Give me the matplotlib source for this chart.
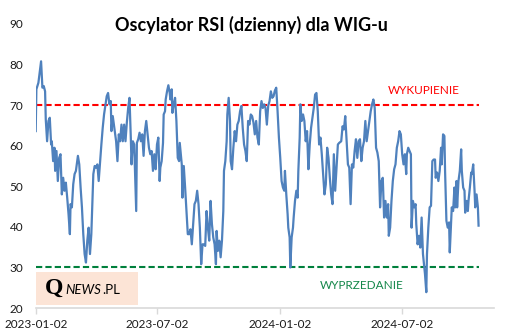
import pandas as pd
import matplotlib.pyplot as plt
import matplotlib.dates as mdates
from matplotlib.patches import Rectangle

plt.rcParams['font.family'] = ['Lato', 'DejaVu Sans']

# Daily RSI for WIG (days counted from 2023-01-02)
start = pd.Timestamp("2023-01-02")
day = [
    0, 1, 4, 8, 10, 12, 14, 15, 17, 19, 21, 23, 24, 26, 28, 29, 31, 33, 35, 37,
    39, 41, 43, 45, 47, 49, 51, 52, 54, 56, 58, 60, 63, 65, 67, 69, 71, 73, 75, 77,
    79, 81, 83, 85, 86, 88, 90, 92, 94, 96, 98, 100, 102,
    106, 108, 110, 112, 113, 115, 117, 120, 122, 124, 126, 128, 130, 132, 134, 136, 138, 140,
    142, 143, 145, 147, 150, 151, 153, 155, 157, 159, 161, 163, 165, 167, 169, 171, 173, 175,
    177, 179, 181, 183, 185, 186, 188, 190, 191, 193, 194, 196, 198, 200, 201, 203, 204, 206,
    208, 210, 212, 214,
    215, 218, 219, 221, 223, 225, 227, 229, 231, 233, 235, 237, 239, 241, 243, 245, 247, 249,
    251, 253, 255, 257, 259, 261, 263, 265, 267, 269, 270, 272, 274, 276, 278, 280, 281, 283,
    285, 286, 288, 290, 291, 293, 295, 297, 299, 301, 303, 305, 307, 309, 311, 313, 315, 317,
    319, 321, 323, 325,
    327, 329, 331, 333, 335, 337, 339, 341, 343, 345, 347, 349, 351, 353, 355, 357, 359, 361,
    363, 365, 367, 369, 371, 372, 374, 376, 377, 379, 380, 382, 384, 385, 387, 389, 391, 392,
    394, 395, 397, 399, 401, 403, 405, 407, 409, 411, 413, 415, 417, 419, 421, 423, 425, 427,
    429, 431, 433, 435, 437,
    439, 441, 443, 445, 447, 449, 451, 453, 456, 458, 460, 462, 464, 466, 468, 470, 472, 474,
    476, 478, 480, 482, 484, 486, 488, 490, 492, 494, 496, 498, 500, 502, 504, 506, 508, 510,
    512, 514, 516, 518, 520, 522, 524, 526, 527, 529, 531, 533, 535, 537, 539, 541, 543, 545,
    547, 549,
    551, 553, 554, 556, 558, 560, 561, 563, 565, 567, 568, 570, 572, 574, 576, 578, 580, 581,
    583, 584, 586, 588, 590, 592, 594, 596, 597, 599, 601, 603, 605, 606, 608, 610, 611, 613,
    615, 617, 618, 620, 621, 623, 625, 626, 628, 629, 631, 633, 635, 636, 638, 640, 641, 643,
    645, 646, 648, 650, 651, 653, 655, 656, 658, 660, 661,
]
rsi = [
    63.6, 73.9, 75.5, 80.8, 74.3, 74.7, 73.4, 66.5, 61.1, 66.1, 66.9, 60.3, 61.1, 56.2, 59.5, 53.8, 58.7, 51.3, 57.0, 57.9,
    48.0, 52.1, 48.9, 50.9, 47.2, 43.1, 38.2, 45.6, 44.8, 50.5, 53.0, 53.8, 57.5, 55.4, 49.7, 44.8, 38.2, 33.3, 31.2, 36.6,
    39.8, 33.3, 38.2, 48.0, 53.0, 55.0, 54.6, 55.4, 51.3, 55.8, 60.3, 64.4, 67.7,
    72.2, 73.0, 70.2, 71.0, 63.6, 67.3, 64.8, 61.1, 56.2, 62.8, 61.1, 65.2, 61.1, 65.2, 61.1, 65.7, 69.3, 71.8,
    61.6, 55.4, 61.1, 60.3, 43.9, 60.7, 61.6, 63.2, 61.1, 62.8, 57.5, 63.6, 66.1, 62.8, 59.5, 57.9, 58.7, 53.8,
    57.9, 54.2, 60.3, 62.0, 51.3, 54.6, 56.2, 60.7, 67.7, 68.5, 71.4, 73.4, 74.9, 73.0, 71.4, 73.9, 68.1, 70.2,
    71.8, 66.1, 57.0, 56.2,
    60.7, 55.4, 47.2, 55.0, 49.7, 43.9, 38.2, 38.2, 39.4, 35.7, 40.7, 45.6, 46.4, 48.9, 45.6, 39.8, 30.8, 35.7,
    35.7, 35.3, 43.9, 39.8, 36.6, 46.4, 40.7, 37.4, 35.7, 30.8, 39.0, 34.1, 36.6, 32.5, 36.6, 43.9, 53.8, 56.2,
    61.1, 67.7, 71.8, 66.1, 56.2, 54.2, 59.5, 63.6, 61.1, 65.2, 66.1, 68.5, 69.8, 64.4, 60.3, 58.7, 56.2, 66.1,
    65.2, 67.7, 67.3, 65.7,
    62.8, 66.1, 62.0, 60.3, 68.5, 71.0, 69.3, 70.2, 69.3, 65.2, 69.8, 71.0, 73.4, 71.8, 72.2, 73.6, 74.3, 68.5,
    62.0, 57.0, 51.3, 49.7, 48.9, 53.8, 48.0, 43.1, 39.8, 37.4, 30.0, 37.4, 39.8, 42.3, 46.4, 48.9, 47.2, 53.8,
    62.0, 70.2, 66.1, 67.7, 66.1, 61.1, 63.6, 54.2, 60.3, 64.4, 66.9, 69.3, 72.6, 73.0, 68.5, 60.3, 62.0, 57.9,
    53.0, 48.0, 50.5, 59.5, 57.0,
    52.1, 48.0, 45.6, 57.9, 48.9, 54.6, 60.3, 60.7, 61.1, 64.8, 64.0, 67.3, 61.1, 55.4, 54.6, 45.6, 55.4, 54.6,
    58.7, 61.6, 57.0, 61.1, 61.6, 56.2, 59.5, 61.1, 66.1, 61.1, 63.6, 66.1, 68.5, 70.2, 71.4, 69.3, 59.5, 58.3,
    56.2, 44.8, 51.3, 52.1, 42.3, 46.4, 42.3, 45.6, 37.8, 39.8, 46.4, 51.3, 54.2, 55.4, 59.5, 61.1, 63.6, 62.8,
    57.9, 55.4,
    57.9, 53.0, 57.9, 59.5, 58.7, 57.9, 39.8, 46.4, 44.8, 45.6, 40.7, 35.7, 37.8, 34.9, 42.3, 33.3, 30.0, 28.4,
    23.9, 33.3, 39.8, 44.8, 45.2, 56.2, 56.6, 56.6, 52.1, 53.4, 51.3, 53.8, 59.5, 55.4, 62.8, 62.4, 53.8, 41.5,
    39.8, 41.1, 33.7, 41.5, 44.8, 43.9, 49.7, 44.8, 51.3, 44.8, 51.3, 53.8, 59.1, 53.8, 49.7, 48.9, 43.5, 46.4,
    43.9, 46.4, 49.7, 53.4, 53.0, 55.4, 48.9, 44.8, 48.0, 44.8, 40.3,
]
overbought = 70
oversold = 30
tick_dates = ["2023-01-02", "2023-07-02", "2024-01-02", "2024-07-02"]

dates = start + pd.to_timedelta(day, unit="D")

fig = plt.figure(figsize=(5.08, 3.36), dpi=100)
ax = fig.add_axes([0.0703, 0.0833, 0.9021, 0.8453])

ax.plot(dates, rsi, color="#4F81BD", lw=1.6, zorder=3)
ax.plot([dates[0], dates[-1]], [overbought] * 2, color="#FF0000", lw=1.5,
        ls=(0, (3, 1.5)), zorder=2)
ax.plot([dates[0], dates[-1]], [oversold] * 2, color="#00803C", lw=1.5,
        ls=(0, (3, 1.5)), zorder=2)

ax.text(start + pd.Timedelta(days=579), 73.6, "WYKUPIENIE", color="#FF0000",
        fontsize=8.5, ha="center", va="center")
ax.text(start + pd.Timedelta(days=487), 25.6, "WYPRZEDANIE", color="#14874A",
        fontsize=8.5, ha="center", va="center")

ax.set_ylim(20, 90)
ax.set_yticks(range(20, 91, 10))
ax.set_xlim(start, start + pd.Timedelta(days=684))
ax.set_xticks(pd.to_datetime(tick_dates))
ax.xaxis.set_major_formatter(mdates.DateFormatter("%Y-%m-%d"))

for side in ["top", "right", "left"]:
    ax.spines[side].set_visible(False)
ax.spines["bottom"].set_color("#D9D9D9")
ax.spines["bottom"].set_linewidth(1.2)
ax.tick_params(axis="y", length=0, pad=9, labelsize=8.5, labelcolor="#1a1a1a")
ax.tick_params(axis="x", length=4, width=1.0, color="#D9D9D9", pad=4,
               labelsize=8.5, labelcolor="#1a1a1a")

fig.text(0.495, 0.926, "Oscylator RSI (dzienny) dla WIG-u", fontsize=13,
         fontweight="bold", ha="center", va="center")

# logo box in the lower-left corner
ax.add_patch(Rectangle((0, 0.0095), 0.223, 0.1165, transform=ax.transAxes,
                       facecolor="#FCE4D6", edgecolor="none", zorder=1))
fig.text(45 / 508, 0.124, "Q", family="Liberation Serif", fontsize=17,
         fontweight="bold", ha="left", va="baseline")
fig.text(65 / 508, 0.124, "NEWS", fontsize=9.5, style="italic",
         ha="left", va="baseline")
fig.text(102 / 508, 0.124, ".PL", fontsize=9.5, ha="left", va="baseline")

fig.savefig("out.png", dpi=100)
